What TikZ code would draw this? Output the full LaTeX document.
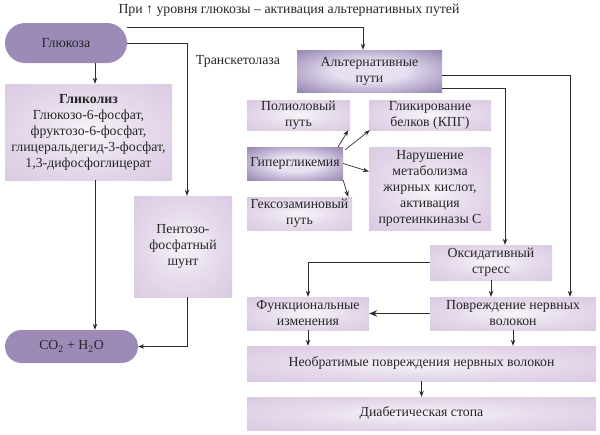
\documentclass[tikz,border=0pt]{standalone}
\usepackage{fontspec}
\setmainfont{Liberation Serif}
\usetikzlibrary{arrows.meta,calc}
\definecolor{pillc}{RGB}{155,139,182}
\definecolor{lboxc}{RGB}{214,197,223}
\definecolor{dboxc}{RGB}{104,82,145}
\definecolor{lcenter}{RGB}{248,244,250}
\definecolor{dcenter}{RGB}{232,224,241}
\definecolor{linec}{RGB}{45,45,45}
\pgfdeclareradialshading{lightrad}{\pgfpoint{0bp}{0bp}}{color(0bp)=(lcenter); color(18bp)=(lboxc!55!lcenter); color(40bp)=(lboxc); color(50bp)=(lboxc)}
\pgfdeclareradialshading{darkrad}{\pgfpoint{0bp}{0bp}}{color(0bp)=(dcenter); color(12bp)=(dcenter); color(48bp)=(dboxc); color(50bp)=(dboxc)}
\begin{document}
\begin{tikzpicture}[x=1pt,y=-1pt,
  font=\fontsize{13.8}{16}\selectfont,
  base/.style={inner sep=0pt, align=center, text=black!85},
  lbox/.style={base, shade, shading=lightrad},
  dbox/.style={base, shade, shading=darkrad},
  pill/.style={base, fill=pillc, rounded corners=#1},
  conn/.style={draw=linec, line width=0.7pt, -{Stealth[length=6pt,width=4.5pt]}},
  thickconn/.style={draw=linec, line width=1.8pt, -{Stealth[length=8pt,width=6.5pt]}},
  plain/.style={base}]
\useasboundingbox (0,0) rectangle (600,434);

\node[plain] (title) at (289,10) {При ↑ уровня глюкозы – активация альтернативных путей};
\node[plain] (tk) at (238,61) {Транскетолаза};

\node[pill=20pt, minimum width=122pt, minimum height=40pt] (glu) at (66,43) {Глюкоза};
\node[lbox, minimum width=167pt, minimum height=96pt] (gly) at (88.5,132)
  {\textbf{Гликолиз}\\Глюкозо-6-фосфат,\\фруктозо-6-фосфат,\\глицеральдегид-3-фосфат,\\1,3-дифосфоглицерат};
\node[pill=16.5pt, minimum width=133pt, minimum height=33pt] (co2) at (71.5,346.5) {CO\textsubscript{2} + H\textsubscript{2}O};
\node[lbox, minimum width=98pt, minimum height=101pt] (pent) at (183,246.5) {Пентозо-\\фосфатный\\шунт};

\node[dbox, minimum width=145pt, minimum height=42pt] (alt) at (369.5,71) {Альтернативные\\пути};
\node[lbox, minimum width=103pt, minimum height=30pt] (poly) at (298.5,115) {Полиоловый\\путь};
\node[dbox, minimum width=96pt, minimum height=33pt] (hyper) at (295,163.5) {Гипергликемия};
\node[lbox, minimum width=105pt, minimum height=33pt] (hexo) at (299.5,213.5) {Гексозаминовый\\путь};
\node[lbox, minimum width=122pt, minimum height=30pt] (glyc) at (430,115) {Гликирование\\белков (КПГ)};
\node[lbox, minimum width=122pt, minimum height=83pt] (fatty) at (430,188.5)
  {Нарушение\\метаболизма\\жирных кислот,\\активация\\протеинкиназы С};

\node[lbox, minimum width=122pt, minimum height=35pt] (oxid) at (491,262.5) {Оксидативный\\стресс};
\node[lbox, minimum width=122pt, minimum height=33pt] (func) at (308,313.5) {Функциональные\\изменения};
\node[lbox, minimum width=166pt, minimum height=33pt] (dam) at (513,313.5) {Повреждение нервных\\волокон};
\node[lbox, minimum width=349pt, minimum height=35pt] (irrev) at (421.5,363.5) {Необратимые повреждения нервных волокон};
\node[lbox, minimum width=349pt, minimum height=33pt] (foot) at (421.5,413.5) {Диабетическая стопа};

% left column
\draw[conn] ([xshift=29pt]glu.south) -- ([xshift=29pt]glu.south |- gly.north);
\draw[conn] ([xshift=6.5pt]gly.south) -- ([xshift=6.5pt]gly.south |- co2.north);
\draw[conn] (glu.east) -| ([xshift=4pt]pent.north);
\draw[conn] ([xshift=4pt]pent.south) |- (co2.east);
\draw[conn] ([yshift=16pt]glu.east) -| ([xshift=-6.5pt]alt.north);

% from alternative paths
\draw[conn] ([yshift=-4pt]alt.east) -| ([xshift=57pt]dam.north);
\draw[conn] ([yshift=-17pt]alt.east) -| ([xshift=14pt]oxid.north);

% hyperglycemia arrows
\draw[conn] ([xshift=-5pt]hyper.north east) -- ([xshift=-2pt]poly.south east);
\draw[conn] ([shift={(2pt,-3pt)}]hyper.north east) -- ([xshift=1pt]glyc.south west);
\draw[conn] (hyper.east) -- ([yshift=17pt]fatty.west);
\draw[conn] (hyper.south east) -- ([xshift=-4pt]hexo.north east);

% lower part
\draw[conn] (oxid.west) -| (func.north);
\draw[conn] (oxid.south) -- (oxid.south |- dam.north);
\draw[thickconn] (dam.west) -- (func.east);
\draw[conn] (func.south) -- (func.south |- irrev.north);
\draw[conn] (dam.south) -- (dam.south |- irrev.north);
\draw[conn] (irrev.south) -- (irrev.south |- foot.north);
\end{tikzpicture}
\end{document}
